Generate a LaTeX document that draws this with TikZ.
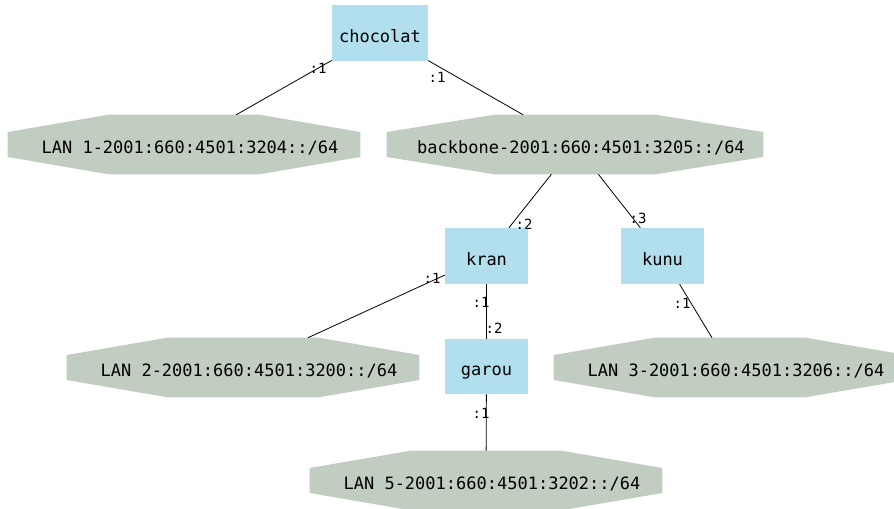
\documentclass[tikz,border=0pt]{standalone}
\usepackage{fontspec}
\setmonofont{DejaVu Sans Mono}
\usetikzlibrary{calc,backgrounds}
\definecolor{boxblue}{HTML}{B2DFEE}
\definecolor{octgray}{HTML}{C1CDC1}
\begin{document}
\begin{tikzpicture}[x=0.75pt,y=-0.75pt,
  host/.style={rectangle, fill=boxblue, inner sep=0pt, minimum width=62.25pt, minimum height=42pt,
    font=\ttfamily\fontsize{12.75}{14}\selectfont, text height=13.5pt, text depth=0pt},
  lan/.style={rectangle, inner sep=0pt, minimum width=264pt, minimum height=44.25pt,
    font=\ttfamily\fontsize{12.75}{14}\selectfont, text height=13.5pt, text depth=0pt,
    execute at begin node={\hskip 9pt}},
  port/.style={inner sep=0pt, font=\ttfamily\fontsize{10.5}{12}\selectfont},
  link/.style={draw=black, line width=0.6pt}]
\useasboundingbox (0,0) rectangle (894,508);
\clip (0,0) rectangle (894,508);
% hosts
\node[host, minimum width=72pt] (choc) at (380,33) {chocolat};
\node[host] (kran) at (486.5,256) {kran};
\node[host] (kunu) at (662.5,256) {kunu};
\node[host, minimum height=41.25pt] (garou) at (486.5,366.5) {garou};
% networks
\node[lan] (lan1) at (184,144.5) {LAN 1-2001:660:4501:3204::/64};
\node[lan, minimum width=282pt] (backbone) at (575,144.5) {backbone-2001:660:4501:3205::/64};
\node[lan] (lan2) at (243,367.5) {LAN 2-2001:660:4501:3200::/64};
\node[lan] (lan3) at (730,367.5) {LAN 3-2001:660:4501:3206::/64};
\node[lan] (lan5) at (486,480.5) {LAN 5-2001:660:4501:3202::/64};
% octagon fills
\begin{scope}[on background layer]
\foreach \n in {lan1,backbone,lan2,lan3,lan5}{
  \fill[octgray] ($(\n.north west)!0.285!(\n.north east)$) -- ($(\n.north west)!0.715!(\n.north east)$)
    -- ($(\n.north east)!0.29!(\n.south east)$) -- ($(\n.north east)!0.71!(\n.south east)$)
    -- ($(\n.south west)!0.715!(\n.south east)$) -- ($(\n.south west)!0.285!(\n.south east)$)
    -- ($(\n.north west)!0.71!(\n.south west)$) -- ($(\n.north west)!0.29!(\n.south west)$) -- cycle;
}
\end{scope}
% links
\draw[link] (choc) -- (lan1);
\draw[link] (choc) -- (backbone);
\draw[link] (backbone) -- (kran);
\draw[link] (backbone) -- (kunu);
\draw[link] (kran) -- (lan2);
\draw[link] (kran) -- (garou);
\draw[link] (kunu) -- (lan3);
\draw[link] (garou) -- (lan5);
% port labels
\node[port] (p1) at (318,68) {:1};
\node[port] (p2) at (437,77) {:1};
\node[port] (p3) at (524,224) {:2};
\node[port] (p4) at (638,218) {:3};
\node[port] (p5) at (432,278) {:1};
\node[port] (p6) at (481,302) {:1};
\node[port] (p7) at (494,328) {:2};
\node[port] (p8) at (682,303) {:1};
\node[port] (p9) at (481,413) {:1};
\end{tikzpicture}
\end{document}
